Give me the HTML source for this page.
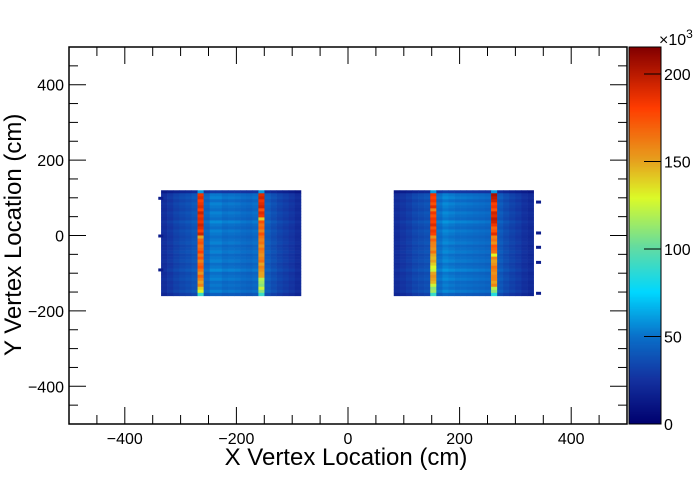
<!DOCTYPE html>
<html><head><meta charset="utf-8"><style>
body{margin:0;background:#fff;}
svg text{font-family:"Liberation Sans",sans-serif;}
</style></head><body>
<svg id="c" width="696" height="472"></svg>
<script>
const xTicks=[-400,-200,0,200,400];
const yTicks=[-400,-200,0,200,400];
const zTicks=[0,50,100,150,200];
const zMax=215.4;
const leftX0=-335, rightX0=82, binW=10.9, binH=8, yTop=120;
const hotA=6, hotB=16;
const leftCols=[24,28,32,35,37,40,0,46,52,52,49,50,49,47,46,48,0,42,37,33,30,27,23];
const rightCols=[23,27,30,34,36,38,0,49,54,52,50,50,49,48,47,46,0,41,36,32,29,25,22];
const rowFactor=[0.55,1.0,1.05,0.95,1.05,1.0,0.95,1.05,1.0,0.95,1.1,1.0,0.95,1.05,1.0,0.95,1.0,1.05,0.95,1.0,1.05,0.95,1.0,1.05,0.95,1.0,1.1,0.95,1.0,1.05,0.95,1.0,0.95,1.05,0.85];
const hotL7=[60,185,190,180,185,190,180,195,185,190,185,195,190,180,195,150,170,175,165,170,180,165,175,160,170,175,165,155,170,160,150,160,140,130,90];
const hotL17=[60,190,195,185,190,195,175,190,185,140,175,165,170,160,175,165,160,165,155,165,160,155,160,165,150,160,155,150,150,120,115,110,125,110,90];
const hotR7=[60,185,180,185,175,190,160,185,175,185,180,190,175,185,180,155,170,160,160,155,165,150,145,150,140,130,125,150,155,150,145,125,110,115,90];
const hotR17=[60,205,200,195,180,185,175,195,190,200,195,185,170,175,190,160,165,155,175,170,165,130,160,150,155,165,160,155,160,160,150,160,120,110,85];
const strayX=[-340,-340,-340,337,337,337,337,337];
const strayY=[100,0,-90,90,8,-30,-70,-152];
const strayV=[15,15,15,15,15,15,15,15];
const NS="http://www.w3.org/2000/svg";
const svg=document.getElementById('c');
const L=69,R=627,T=47,B=424;
const sx=v=>L+(v+500)/1000*(R-L);
const sy=v=>B-(v+500)/1000*(B-T);
const stops=[[0,0,0,110],[0.12,20,50,160],[0.23,10,110,200],[0.35,0,215,255],[0.47,100,220,160],[0.6,220,250,40],[0.7,230,160,30],[0.84,255,60,0],[1,130,0,0]];
function jet(t){t=Math.max(0,Math.min(1,t));
 for(let i=1;i<stops.length;i++){if(t<=stops[i][0]){const a=stops[i-1],b=stops[i],f=(t-a[0])/(b[0]-a[0]);
  return `rgb(${Math.round(a[1]+(b[1]-a[1])*f)},${Math.round(a[2]+(b[2]-a[2])*f)},${Math.round(a[3]+(b[3]-a[3])*f)})`;}}
 return 'rgb(130,0,0)';}
function el(tag,attrs){const e=document.createElementNS(NS,tag);for(const k in attrs)e.setAttribute(k,attrs[k]);svg.appendChild(e);return e;}
function cell(x,y,v){const e=el('rect',{x:sx(x),y:sy(y+binH),width:sx(x+binW)-sx(x)+0.3,height:sy(y)-sy(y+binH)+0.3,fill:jet(v/zMax)});
 
 }
function block(x0,cols,h7,h17){
 for(let c=0;c<cols.length;c++)for(let r=0;r<rowFactor.length;r++){
  let v;
  if(c===hotA)v=h7[r];else if(c===hotB)v=h17[r];else v=cols[c]*rowFactor[r];
  cell(x0+c*binW,yTop-(r+1)*binH,v);}
}
block(leftX0,leftCols,hotL7,hotL17);
block(rightX0,rightCols,hotR7,hotR17);
for(let i=0;i<strayX.length;i++){const e=el('rect',{x:sx(strayX[i]),y:sy(strayY[i])-1,width:5,height:3,fill:jet(strayV[i]/zMax)});
 
 }
const fr=el('rect',{x:L,y:T,width:R-L,height:B-T,fill:'none',stroke:'#000','stroke-width':1.5});

for(let v=-500;v<=500;v+=50){const len=(v%200===0)?17:9;
 const X=sx(v),Y=sy(v);
 el('line',{x1:X,y1:B,x2:X,y2:B-len,stroke:'#000'});el('line',{x1:X,y1:T,x2:X,y2:T+len,stroke:'#000'});
 el('line',{x1:L,y1:Y,x2:L+len,y2:Y,stroke:'#000'});el('line',{x1:R,y1:Y,x2:R-len,y2:Y,stroke:'#000'});}
xTicks.forEach(v=>{const t=el('text',{x:sx(v),y:444,'font-size':16,'text-anchor':'middle'});t.textContent=v<0?'\u2212'+(-v):v;
 });
yTicks.forEach(v=>{const t=el('text',{x:64,y:sy(v)+6,'font-size':16,'text-anchor':'end'});t.textContent=v<0?'\u2212'+(-v):v;
 });
const xt=el('text',{x:346,y:465,'font-size':24,'text-anchor':'middle'});xt.textContent='X Vertex Location (cm)';

const yt=el('text',{x:0,y:0,'font-size':24,'text-anchor':'start',transform:'translate(21,356) rotate(-90)'});yt.textContent='Y Vertex Location (cm)';

const CL=629,CR=661;
for(let i=0;i<B-T;i++){el('rect',{x:CL,y:B-i-1,width:CR-CL,height:1.2,fill:jet((i+0.5)/(B-T))});}
const cb=el('rect',{x:CL,y:T,width:CR-CL,height:B-T,fill:'none',stroke:'#000'});

const sz=v=>B-v/zMax*(B-T);
zTicks.forEach(v=>{el('line',{x1:CR,y1:sz(v),x2:CR-17,y2:sz(v),stroke:'#000'});});
zTicks.forEach(v=>{const t=el('text',{x:664,y:sz(v)+6,'font-size':16});t.textContent=v;
 });
const ex=el('text',{x:659,y:45,'font-size':16});ex.innerHTML='\u00d710<tspan dy="-7" font-size="12">3</tspan>';

</script>
</body></html>
